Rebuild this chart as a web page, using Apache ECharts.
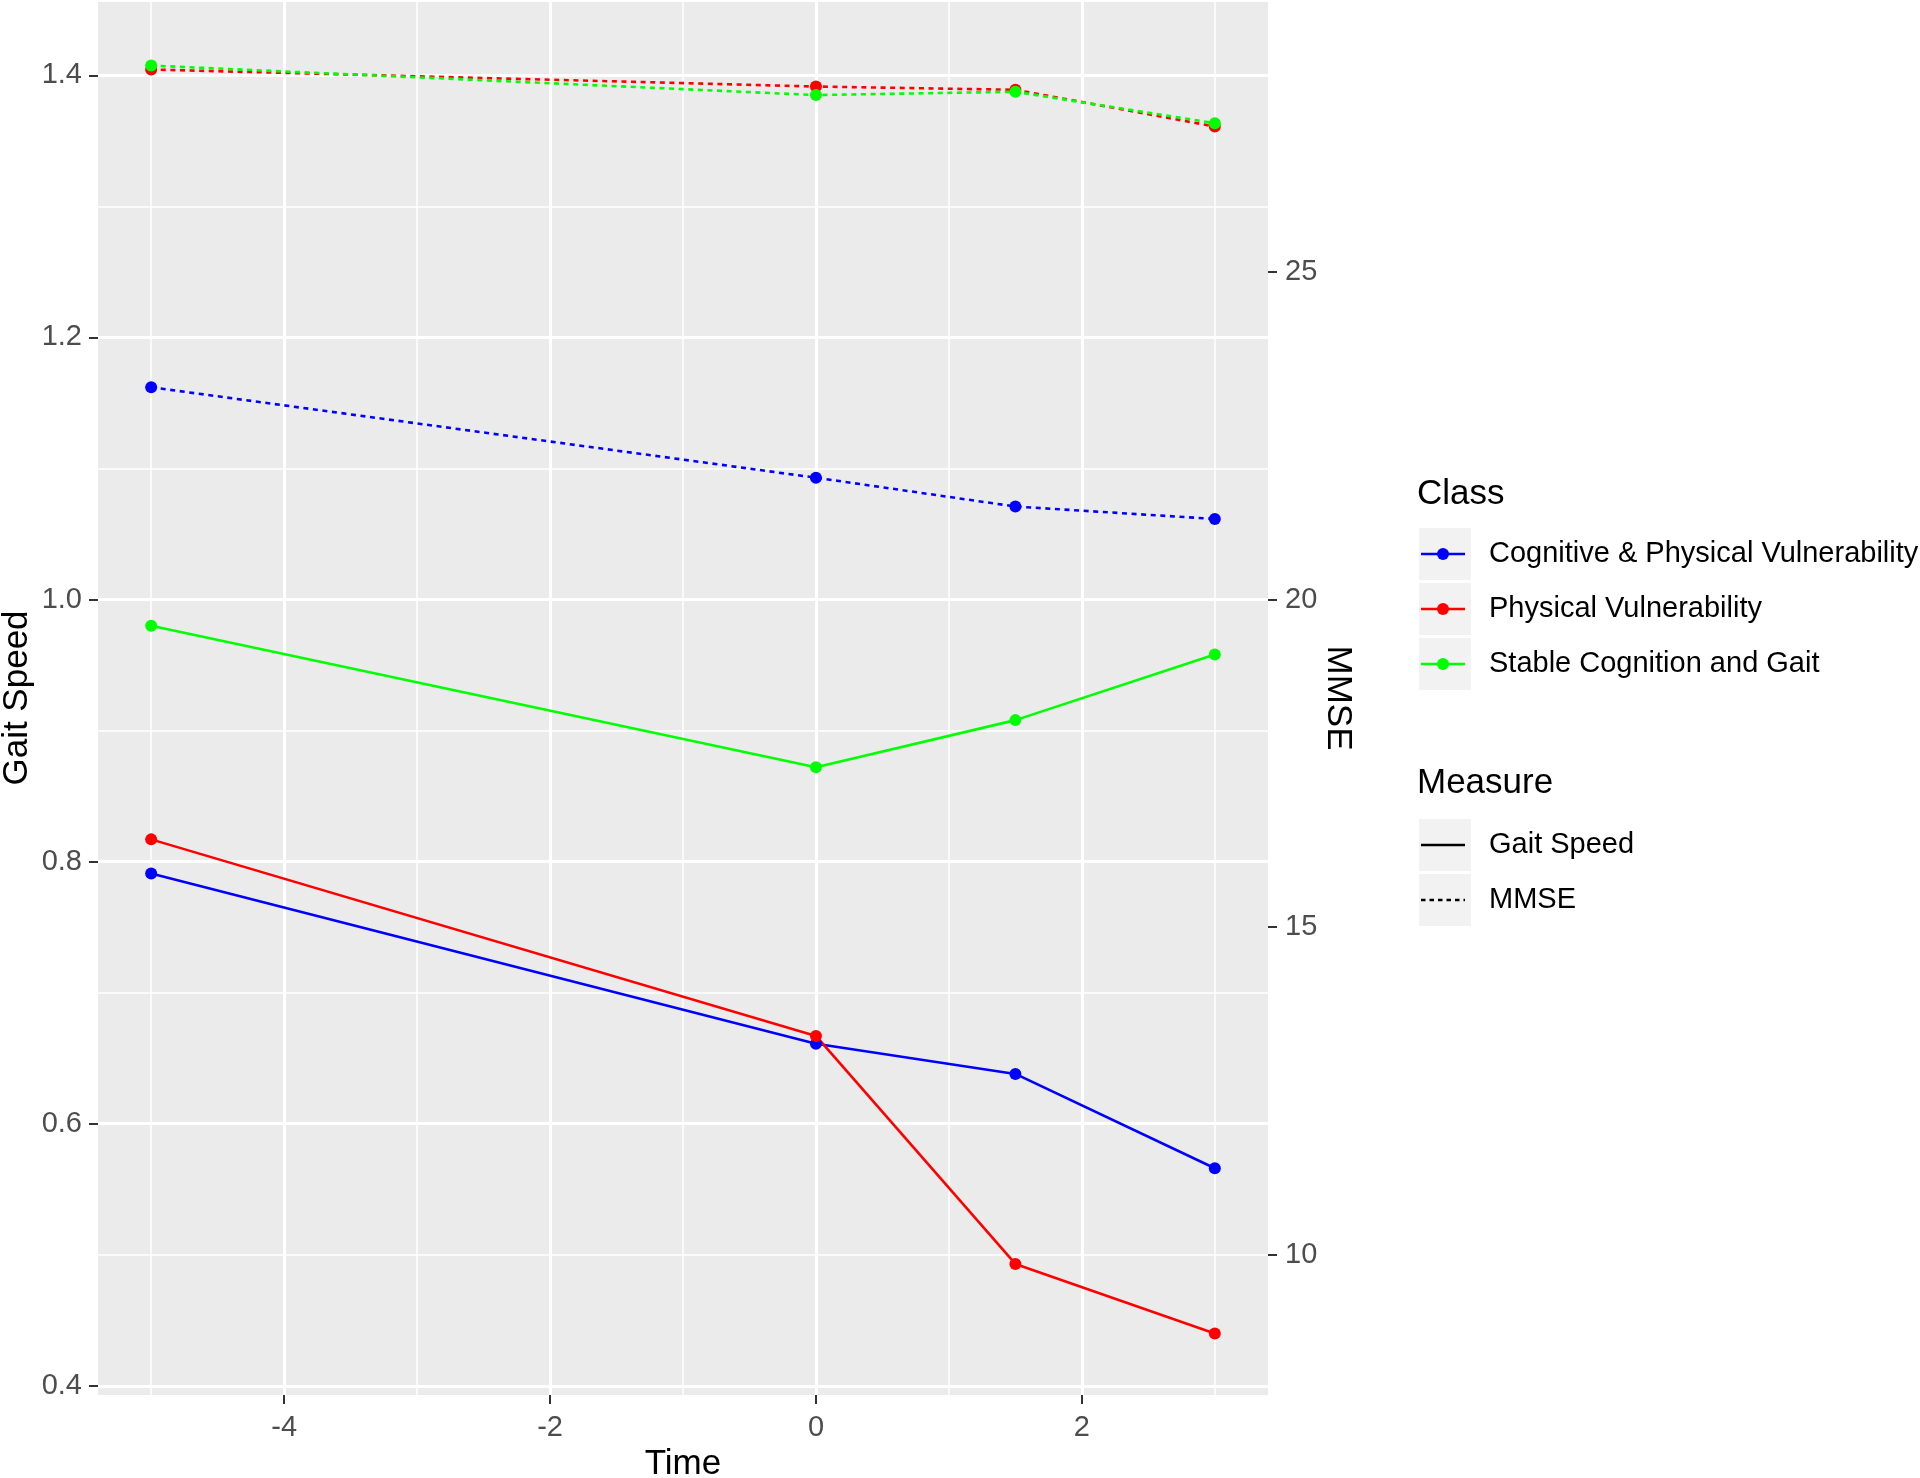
<!DOCTYPE html>
<html><head><meta charset="utf-8">
<script src="https://cdn.jsdelivr.net/npm/echarts@6/dist/echarts.min.js"></script>
<style>html,body{margin:0;padding:0;background:#fff}#chart{width:1920px;height:1478px}</style>
</head><body><div id="chart"></div>
<script>
// ---- data ----
const times = [-5, 0, 1.5, 3];
const classNames = ['Cognitive & Physical Vulnerability', 'Physical Vulnerability', 'Stable Cognition and Gait'];
const measureNames = ['Gait Speed', 'MMSE'];
const gaitCPV = [0.791, 0.661, 0.638, 0.566];
const gaitPV  = [0.817, 0.667, 0.493, 0.440];
const gaitSCG = [0.980, 0.872, 0.908, 0.958];
const mmseCPV = [23.24, 21.86, 21.42, 21.23];
const mmsePV  = [28.09, 27.83, 27.78, 27.22];
const mmseSCG = [28.15, 27.70, 27.75, 27.27];
const xMajorTicks = [-4, -2, 0, 2];
const xMinorTicks = [-5, -3, -1, 1, 3];
const yMajorTicks = [0.4, 0.6, 0.8, 1.0, 1.2, 1.4];
const yMinorTicks = [0.5, 0.7, 0.9, 1.1, 1.3];
const mmseTicks = [10, 15, 20, 25];
const xRange = [-5.4, 3.4];
const gaitRange = [0.393, 1.456];
const mmsePerGait = 20;

// ---- styles ----
const classColors = ['#0000FF', '#FF0000', '#00FF00'];
const FONT = 'Liberation Sans, Arial, sans-serif';
const tickText = { color: '#4D4D4D', fontSize: 29, fontFamily: FONT };
const dashPattern = [5, 4.6];

const gaitSets = [gaitCPV, gaitPV, gaitSCG];
const mmseSets = [mmseCPV, mmsePV, mmseSCG];

const series = [];
classNames.forEach((name, i) => {
  series.push({
    name: name + ' - ' + measureNames[0], type: 'line', xAxisIndex: 0, yAxisIndex: 0,
    data: times.map((t, j) => [t, gaitSets[i][j]]),
    symbol: 'circle', symbolSize: 12, showSymbol: true,
    lineStyle: { color: classColors[i], width: 2.6, type: 'solid' },
    itemStyle: { color: classColors[i], borderWidth: 0 },
    emphasis: { disabled: true }, silent: true
  });
});
classNames.forEach((name, i) => {
  series.push({
    name: name + ' - ' + measureNames[1], type: 'line', xAxisIndex: 0, yAxisIndex: 1,
    data: times.map((t, j) => [t, mmseSets[i][j]]),
    symbol: 'circle', symbolSize: 12, showSymbol: true,
    lineStyle: { color: classColors[i], width: 2.6, type: dashPattern },
    itemStyle: { color: classColors[i], borderWidth: 0 },
    emphasis: { disabled: true }, silent: true
  });
});

const hiddenLine = { show: false, onZero: false };
const tickStyle = { show: true, length: 9, lineStyle: { color: '#333333', width: 2 } };

// ---- titles and legend via graphic ----
const graphics = [];
function addTitle(text, x, y, rot, size) {
  graphics.push({ type: 'text', x: x, y: y, rotation: rot,
    style: { text: text, fill: '#000', fontSize: size, fontFamily: FONT, align: 'center', verticalAlign: 'middle' } });
}
addTitle('Gait Speed', 17, 698, Math.PI / 2, 35);
addTitle('Time', 683, 1464, 0, 35);
addTitle('MMSE', 1338, 698, -Math.PI / 2, 35);

function legendBlock(title, titleY, rowTop, names, colors, dashes, dots) {
  graphics.push({ type: 'text', x: 1417, y: titleY,
    style: { text: title, fill: '#000', fontSize: 35, fontFamily: FONT, align: 'left', verticalAlign: 'middle' } });
  names.forEach((n, i) => {
    const top = rowTop + i * 55;
    const cy = top + 26;
    graphics.push({ type: 'rect', shape: { x: 1419, y: top, width: 52, height: 52 }, style: { fill: '#F2F2F2' } });
    graphics.push({ type: 'line', shape: { x1: 1421, y1: cy, x2: 1465, y2: cy },
      style: { stroke: colors[i], lineWidth: 2.4, lineDash: dashes[i] } });
    if (dots) graphics.push({ type: 'circle', shape: { cx: 1443, cy: cy, r: 6 }, style: { fill: colors[i] } });
    graphics.push({ type: 'text', x: 1489, y: cy,
      style: { text: n, fill: '#000', fontSize: 29, fontFamily: FONT, align: 'left', verticalAlign: 'middle' } });
  });
}
legendBlock('Class', 494, 528, classNames, classColors, [null, null, null], true);
legendBlock('Measure', 783, 819, measureNames, ['#000', '#000'], [null, [4.5, 4]], false);

const option = {
  animation: false,
  backgroundColor: '#FFFFFF',
  grid: { left: 98, top: 2, right: 652, bottom: 83, show: true, backgroundColor: '#EBEBEB', borderWidth: 0, containLabel: false, outerBoundsMode: 'none' },
  xAxis: [
    { type: 'value', min: xRange[0], max: xRange[1], position: 'bottom',
      axisLine: hiddenLine,
      axisTick: Object.assign({ customValues: xMajorTicks }, tickStyle),
      axisLabel: Object.assign({ customValues: xMajorTicks, margin: 18 }, tickText),
      splitLine: { show: true, lineStyle: { color: '#FFFFFF', width: 3 } } },
    { type: 'value', min: xRange[0], max: xRange[1], position: 'bottom',
      axisLine: hiddenLine,
      axisTick: { show: false, customValues: xMinorTicks },
      axisLabel: { show: false, customValues: xMinorTicks },
      splitLine: { show: true, lineStyle: { color: '#FFFFFF', width: 1.5 } } }
  ],
  yAxis: [
    { type: 'value', min: gaitRange[0], max: gaitRange[1], position: 'left',
      axisLine: hiddenLine,
      axisTick: Object.assign({ customValues: yMajorTicks }, tickStyle),
      axisLabel: Object.assign({ customValues: yMajorTicks, margin: 16, formatter: v => v.toFixed(1) }, tickText),
      splitLine: { show: true, lineStyle: { color: '#FFFFFF', width: 3 } } },
    { type: 'value', min: gaitRange[0] * mmsePerGait, max: gaitRange[1] * mmsePerGait, position: 'right',
      axisLine: hiddenLine,
      axisTick: Object.assign({ customValues: mmseTicks }, tickStyle),
      axisLabel: Object.assign({ customValues: mmseTicks, margin: 17 }, tickText),
      splitLine: { show: false } },
    { type: 'value', min: gaitRange[0], max: gaitRange[1], position: 'left',
      axisLine: hiddenLine,
      axisTick: { show: false, customValues: yMinorTicks },
      axisLabel: { show: false, customValues: yMinorTicks },
      splitLine: { show: true, lineStyle: { color: '#FFFFFF', width: 1.5 } } }
  ],
  series: series,
  graphic: graphics
};
const chart = echarts.init(document.getElementById('chart'), null, { renderer: 'canvas' });
chart.setOption(option);
</script></body></html>
